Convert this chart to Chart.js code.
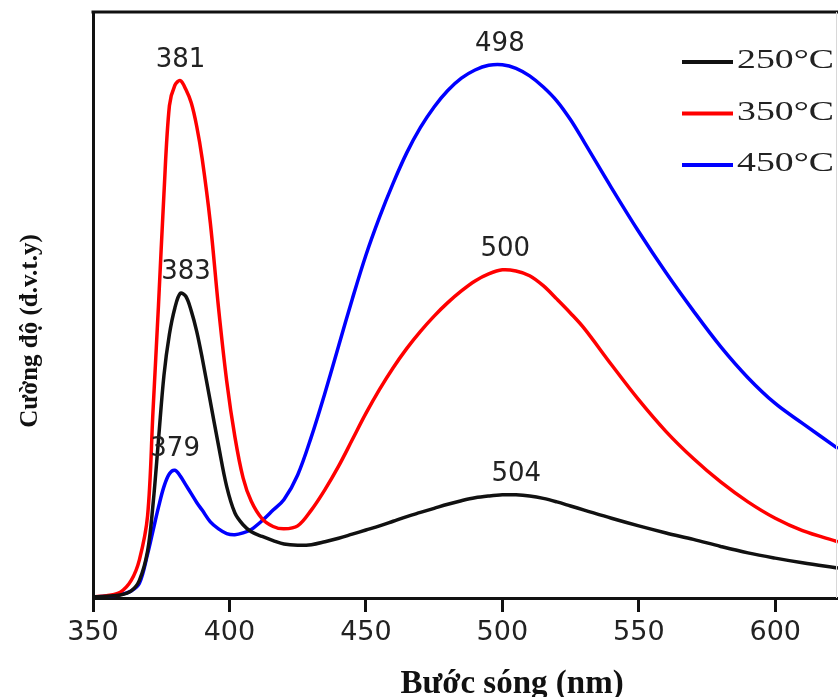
<!DOCTYPE html>
<html>
<head>
<meta charset="utf-8">
<script src="https://cdn.jsdelivr.net/npm/chart.js@4.4.1/dist/chart.umd.min.js"></script>
<style>
    html, body { margin: 0; padding: 0; background: #fff; }
    #spectrum { display: block; }
</style>
</head>
<body>
<canvas id="spectrum" width="838" height="697"></canvas>
<script>
// wavelength (nm) and intensity
const wavelengths = [350, 355, 360, 364, 367, 370, 372, 374, 376, 378,
    380, 382, 384, 386, 388, 390, 393, 396, 399, 402,
    405, 408, 412, 416, 420, 425, 430, 435, 440, 445,
    450, 455, 460, 465, 470, 475, 480, 485, 490, 495,
    500, 505, 510, 515, 520, 525, 530, 540, 550, 560,
    570, 580, 590, 600, 610, 623];

const sample250 = [0.2, 0.3, 0.5, 1.2, 3, 8, 16, 27, 38, 45,
    49.5, 52, 51.5, 49, 45.5, 41, 33.5, 26, 19, 14.5,
    12.5, 11.3, 10.5, 9.8, 9.2, 9.0, 9.1, 9.6, 10.2, 10.9,
    11.6, 12.3, 13.1, 13.9, 14.6, 15.3, 16.0, 16.6, 17.1, 17.4,
    17.6, 17.6, 17.4, 17.0, 16.4, 15.7, 15.0, 13.6, 12.3, 11.1,
    10.0, 8.8, 7.7, 6.8, 6.0, 5.1];

const sample350 = [0.2, 0.4, 1.0, 3, 6.5, 14, 32, 50, 69, 84,
    87.5, 88.3, 86.8, 84.5, 80.5, 75, 64, 49.5, 37, 27.5,
    20.5, 16.5, 13.5, 12.2, 11.8, 12.3, 15, 18.5, 22.5, 27,
    31.5, 35.6, 39.3, 42.6, 45.5, 48.1, 50.4, 52.4, 54.1, 55.3,
    56, 55.8, 55, 53.3, 51, 48.6, 46, 39.8, 33.8, 28.4,
    23.8, 19.8, 16.4, 13.6, 11.5, 9.6];

const sample450 = [0.2, 0.3, 0.6, 1.2, 2.5, 7.5, 11.5, 15.5, 19, 21.2,
    21.8, 20.8, 19.3, 17.8, 16.3, 15, 13, 11.8, 11, 10.8,
    11.1, 11.7, 13.2, 15, 16.8, 21, 27.5, 35, 43, 51,
    58.5, 65, 70.8, 76, 80.3, 83.8, 86.6, 88.7, 90.1, 90.9,
    91, 90.4, 89.1, 87.2, 84.8, 81.6, 77.8, 70, 62.5, 55.5,
    49, 42.9, 37.6, 33.2, 29.8, 25.5];

const seriesNames = ['250°C', '350°C', '450°C'];
const xTicks = [350, 400, 450, 500, 550, 600];

// peak labels: which series and the wavelength written on the chart
const peakTexts = ['383', '504', '381', '500', '379', '498'];
const peakSeries = [0, 0, 1, 1, 2, 2];

const allSeries = [sample250, sample350, sample450];
const colors = ['#111111', '#ff0000', '#0000ff'];

function toPoints(values) {
    return wavelengths.map((w, i) => ({x: w, y: values[i]}));
}

const decorations = {
    id: 'decorations',
    beforeDraw(chart) {
        const ctx = chart.ctx;
        ctx.save();
        ctx.fillStyle = '#fff';
        ctx.fillRect(0, 0, chart.width, chart.height);
        ctx.restore();
    },
    afterDatasetsDraw(chart) {
        const ctx = chart.ctx;
        const area = chart.chartArea;
        const xs = chart.scales.x;
        const ys = chart.scales.y;
        ctx.save();

        // frame top and faint right edge
        ctx.strokeStyle = '#111';
        ctx.lineWidth = 3;
        ctx.beginPath();
        ctx.moveTo(area.left - 1.5, area.top);
        ctx.lineTo(area.right, area.top);
        ctx.stroke();
        ctx.strokeStyle = '#d8d8d8';
        ctx.lineWidth = 1;
        ctx.beginPath();
        ctx.moveTo(area.right - 1.5, area.top);
        ctx.lineTo(area.right - 1.5, area.bottom);
        ctx.stroke();

        // peak labels
        ctx.fillStyle = '#222';
        ctx.font = '26px "DejaVu Sans"';
        ctx.textAlign = 'center';
        ctx.textBaseline = 'alphabetic';
        peakTexts.forEach((t, i) => {
            const nm = Number(t);
            const values = allSeries[peakSeries[i]];
            let top = 0;
            wavelengths.forEach((w, j) => {
                if (Math.abs(w - nm) <= 8 && values[j] > top) top = values[j];
            });
            ctx.fillText(t, xs.getPixelForValue(nm) + 3, ys.getPixelForValue(top) - 14);
        });

        // legend
        ctx.font = '28px "Liberation Serif"';
        ctx.textAlign = 'left';
        seriesNames.forEach((name, i) => {
            const y = 62 + i * 51.5;
            ctx.strokeStyle = colors[i];
            ctx.lineWidth = 4;
            ctx.beginPath();
            ctx.moveTo(682, y);
            ctx.lineTo(733, y);
            ctx.stroke();
            ctx.save();
            ctx.translate(737, y + 6);
            ctx.scale(1.35, 1);
            ctx.fillStyle = '#222';
            ctx.fillText(name, 0, 0);
            ctx.restore();
        });
        ctx.restore();
    },
    afterDraw(chart) {
        const ctx = chart.ctx;
        ctx.save();
        ctx.fillStyle = '#111';
        ctx.textAlign = 'center';
        ctx.textBaseline = 'alphabetic';
        ctx.font = 'bold 33px "Liberation Serif"';
        ctx.fillText('Bước sóng (nm)', 512, 693);

        ctx.translate(37, 331);
        ctx.rotate(-Math.PI / 2);
        ctx.font = 'bold 25px "Liberation Serif"';
        ctx.fillText('Cường độ (đ.v.t.y)', 0, 0);
        ctx.restore();
    }
};

new Chart(document.getElementById('spectrum'), {
    type: 'line',
    data: {
        datasets: allSeries.map((values, i) => ({
            label: seriesNames[i],
            data: toPoints(values),
            borderColor: colors[i],
            borderWidth: 3.5,
            pointRadius: 0,
            fill: false,
            tension: 0.35
        }))
    },
    options: {
        responsive: false,
        animation: false,
        layout: {padding: {top: 12, right: 0, left: 0, bottom: 0}},
        plugins: {
            legend: {display: false},
            tooltip: {enabled: false}
        },
        scales: {
            x: {
                type: 'linear',
                min: 350,
                max: 623,
                afterBuildTicks: axis => {
                    axis.ticks = xTicks.map(v => ({value: v}));
                },
                afterFit: scale => { scale.height = 99; },
                grid: {drawOnChartArea: false, drawTicks: true, tickLength: 14, color: '#111', lineWidth: 3},
                border: {display: true, color: '#111', width: 3},
                ticks: {
                    color: '#222',
                    padding: 5,
                    maxRotation: 0,
                    font: {family: 'DejaVu Sans', size: 27}
                }
            },
            y: {
                min: 0,
                max: 100,
                afterFit: scale => { scale.width = 93; },
                grid: {display: false},
                border: {display: true, color: '#111', width: 3},
                ticks: {display: false}
            }
        }
    },
    plugins: [decorations]
});
</script>
</body>
</html>
